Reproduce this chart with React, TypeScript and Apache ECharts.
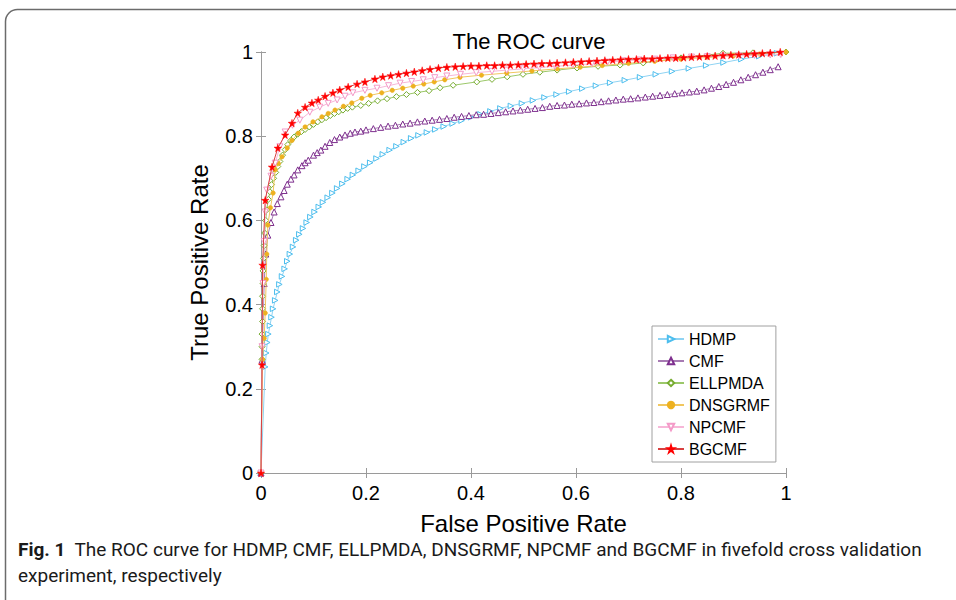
import React, { useEffect, useRef } from "react";
import * as echarts from "echarts";

const TITLE = "The ROC curve";
const X_NAME = "False Positive Rate";
const Y_NAME = "True Positive Rate";
const SERIES_NAMES = ["HDMP", "CMF", "ELLPMDA", "DNSGRMF", "NPCMF", "BGCMF"];
const CAPTION_BOLD = "Fig. 1";
const CAPTION_LINE1 = "  The ROC curve for HDMP, CMF, ELLPMDA, DNSGRMF, NPCMF and BGCMF in fivefold cross validation";
const CAPTION_LINE2 = "experiment, respectively";

const HDMP: [number, number][] = [
  [0, 0], [0.008, 0.252], [0.010, 0.285], [0.012, 0.31], [0.014, 0.33], [0.017, 0.35], [0.020, 0.37],
  [0.023, 0.39], [0.027, 0.41], [0.031, 0.43], [0.035, 0.448], [0.040, 0.467], [0.045, 0.485],
  [0.050, 0.503], [0.055, 0.52], [0.061, 0.537], [0.067, 0.553], [0.073, 0.567], [0.080, 0.581],
  [0.087, 0.595], [0.094, 0.608], [0.102, 0.62], [0.110, 0.632], [0.118, 0.643], [0.127, 0.654],
  [0.136, 0.665], [0.145, 0.676], [0.155, 0.687], [0.165, 0.698], [0.175, 0.708], [0.186, 0.718],
  [0.197, 0.728], [0.208, 0.737], [0.220, 0.747], [0.232, 0.757], [0.245, 0.767], [0.258, 0.776],
  [0.272, 0.786], [0.286, 0.795], [0.300, 0.802], [0.316, 0.809], [0.332, 0.816], [0.348, 0.823],
  [0.365, 0.83], [0.382, 0.837], [0.400, 0.845], [0.418, 0.852], [0.437, 0.859], [0.456, 0.866],
  [0.476, 0.872], [0.497, 0.878], [0.518, 0.885], [0.540, 0.892], [0.563, 0.899], [0.587, 0.906],
  [0.612, 0.913], [0.638, 0.92], [0.665, 0.927], [0.693, 0.933], [0.722, 0.94], [0.752, 0.947],
  [0.783, 0.954], [0.815, 0.961], [0.848, 0.968], [0.881, 0.975], [0.915, 0.983], [0.949, 0.99],
  [0.983, 0.997],
];

const CMF: [number, number][] = [
  [0, 0], [0.002, 0.268], [0.006, 0.45], [0.009, 0.52], [0.013, 0.565], [0.019, 0.595], [0.025, 0.62],
  [0.031, 0.64], [0.038, 0.656], [0.044, 0.671], [0.05, 0.686], [0.057, 0.698], [0.063, 0.708],
  [0.07, 0.72], [0.078, 0.73], [0.084, 0.737], [0.09, 0.743], [0.1, 0.755], [0.107, 0.761],
  [0.114, 0.767], [0.122, 0.776], [0.131, 0.785], [0.14, 0.792], [0.15, 0.798], [0.16, 0.803],
  [0.17, 0.807], [0.179, 0.81], [0.19, 0.812], [0.2, 0.815], [0.214, 0.818], [0.228, 0.821],
  [0.242, 0.824], [0.256, 0.826], [0.27, 0.829], [0.284, 0.831], [0.298, 0.834], [0.312, 0.836],
  [0.326, 0.838], [0.34, 0.84], [0.354, 0.842], [0.368, 0.845], [0.382, 0.847], [0.396, 0.849],
  [0.41, 0.851], [0.424, 0.852], [0.438, 0.854], [0.452, 0.856], [0.466, 0.858], [0.48, 0.86],
  [0.494, 0.862], [0.508, 0.864], [0.522, 0.866], [0.536, 0.868], [0.55, 0.871], [0.564, 0.873],
  [0.578, 0.874], [0.592, 0.876], [0.606, 0.877], [0.62, 0.879], [0.634, 0.88], [0.648, 0.882],
  [0.662, 0.884], [0.676, 0.886], [0.69, 0.888], [0.704, 0.889], [0.718, 0.891], [0.732, 0.893],
  [0.746, 0.895], [0.76, 0.897], [0.774, 0.899], [0.788, 0.901], [0.802, 0.903], [0.816, 0.905],
  [0.83, 0.907], [0.844, 0.91], [0.858, 0.914], [0.872, 0.918], [0.886, 0.923], [0.9, 0.928],
  [0.914, 0.934], [0.928, 0.94], [0.942, 0.946], [0.956, 0.952], [0.97, 0.958], [0.985, 0.965],
];

const ELLPMDA: [number, number][] = [
  [0, 0], [0.002, 0.27], [0.002, 0.3], [0.002, 0.33], [0.003, 0.36], [0.003, 0.39], [0.003, 0.42],
  [0.004, 0.45], [0.004, 0.48], [0.005, 0.51], [0.006, 0.54], [0.007, 0.57], [0.009, 0.6],
  [0.011, 0.625], [0.014, 0.65], [0.017, 0.668], [0.02, 0.685], [0.024, 0.7], [0.028, 0.714],
  [0.032, 0.728], [0.036, 0.74], [0.041, 0.755], [0.046, 0.768], [0.051, 0.78], [0.057, 0.79],
  [0.063, 0.798], [0.07, 0.805], [0.077, 0.811], [0.084, 0.816], [0.092, 0.822], [0.1, 0.828],
  [0.108, 0.834], [0.116, 0.839], [0.124, 0.844], [0.132, 0.849], [0.14, 0.854], [0.148, 0.858],
  [0.156, 0.862], [0.165, 0.866], [0.174, 0.869], [0.19, 0.873], [0.205, 0.878], [0.222, 0.884],
  [0.24, 0.889], [0.258, 0.894], [0.277, 0.899], [0.298, 0.904], [0.32, 0.908], [0.341, 0.915],
  [0.366, 0.921], [0.411, 0.929], [0.44, 0.935], [0.469, 0.941], [0.499, 0.947], [0.531, 0.952],
  [0.564, 0.957], [0.602, 0.962], [0.642, 0.966], [0.684, 0.969], [0.728, 0.974], [0.8, 0.986],
  [0.88, 0.997], [0.937, 0.998], [1.0, 1.0],
];

const DNSGRMF: [number, number][] = [
  [0, 0], [0.003, 0.27], [0.006, 0.32], [0.008, 0.38], [0.01, 0.46], [0.011, 0.52], [0.013, 0.589],
  [0.018, 0.63], [0.023, 0.665], [0.027, 0.72], [0.033, 0.735], [0.04, 0.751], [0.05, 0.772],
  [0.059, 0.79], [0.071, 0.807], [0.084, 0.822], [0.099, 0.834], [0.116, 0.846], [0.128, 0.854],
  [0.141, 0.862], [0.157, 0.871], [0.173, 0.879], [0.192, 0.89], [0.208, 0.897], [0.23, 0.903],
  [0.25, 0.909], [0.27, 0.914], [0.29, 0.919], [0.31, 0.924], [0.33, 0.929], [0.35, 0.934],
  [0.379, 0.94], [0.42, 0.945], [0.468, 0.95], [0.516, 0.955], [0.564, 0.96], [0.608, 0.964],
  [0.65, 0.968], [0.7, 0.973], [0.75, 0.978], [0.8, 0.983], [0.85, 0.987], [0.9, 0.991],
  [0.95, 0.995], [1.0, 1.0],
];

const NPCMF: [number, number][] = [
  [0, 0], [0.002, 0.3], [0.004, 0.45], [0.006, 0.55], [0.008, 0.62], [0.011, 0.672], [0.019, 0.705],
  [0.027, 0.736], [0.036, 0.775], [0.046, 0.81], [0.06, 0.826], [0.074, 0.838], [0.093, 0.857],
  [0.112, 0.869], [0.128, 0.878], [0.145, 0.886], [0.16, 0.895], [0.175, 0.903], [0.198, 0.909],
  [0.221, 0.914], [0.243, 0.92], [0.265, 0.926], [0.287, 0.93], [0.309, 0.934], [0.331, 0.939],
  [0.354, 0.943], [0.38, 0.947], [0.41, 0.951], [0.44, 0.954], [0.468, 0.957], [0.5, 0.96],
  [0.53, 0.963], [0.56, 0.966], [0.594, 0.969], [0.63, 0.972], [0.66, 0.976], [0.69, 0.979],
  [0.72, 0.981], [0.75, 0.983], [0.785, 0.986], [0.82, 0.988], [0.85, 0.989], [0.88, 0.99],
  [0.91, 0.991], [0.94, 0.992], [0.97, 0.993], [0.99, 0.994],
];

const BGCMF: [number, number][] = [
  [0, 0], [0.002, 0.257], [0.003, 0.494], [0.008, 0.648], [0.021, 0.727], [0.032, 0.772],
  [0.046, 0.803], [0.059, 0.831], [0.07, 0.855], [0.084, 0.869], [0.097, 0.879], [0.109, 0.886],
  [0.122, 0.895], [0.137, 0.903], [0.15, 0.91], [0.166, 0.917], [0.183, 0.924], [0.198, 0.929],
  [0.217, 0.936], [0.232, 0.941], [0.247, 0.944], [0.262, 0.947], [0.277, 0.95], [0.292, 0.953],
  [0.307, 0.956], [0.322, 0.959], [0.338, 0.962], [0.354, 0.964], [0.37, 0.965], [0.385, 0.966],
  [0.4, 0.967], [0.415, 0.967], [0.43, 0.968], [0.445, 0.968], [0.46, 0.969], [0.475, 0.969],
  [0.49, 0.97], [0.505, 0.971], [0.52, 0.972], [0.535, 0.973], [0.55, 0.973], [0.564, 0.974],
  [0.58, 0.975], [0.595, 0.976], [0.61, 0.977], [0.625, 0.978], [0.64, 0.979], [0.655, 0.98],
  [0.67, 0.981], [0.685, 0.982], [0.7, 0.983], [0.715, 0.983], [0.73, 0.984], [0.745, 0.984],
  [0.76, 0.985], [0.775, 0.986], [0.79, 0.986], [0.805, 0.987], [0.82, 0.988], [0.835, 0.989],
  [0.85, 0.99], [0.865, 0.991], [0.88, 0.992], [0.895, 0.993], [0.91, 0.994], [0.925, 0.995],
  [0.94, 0.996], [0.955, 0.997], [0.97, 0.998], [0.989, 1.0],
];

const X_TICKS = [0, 0.2, 0.4, 0.6, 0.8, 1];
const Y_TICKS = [0, 0.2, 0.4, 0.6, 0.8, 1];

const STAR = "path://M50,0 L61,35 L98,35 L68,57 L79,91 L50,70 L21,91 L32,57 L2,35 L39,35 Z";

const FONT = "'Liberation Sans', Arial, sans-serif";
const CAPTION_FONT = "Roboto, sans-serif";
const AXIS_GRAY = "#9a9a9a";

export default function App() {
  const ref = useRef<HTMLDivElement>(null);

  useEffect(() => {
    if (!ref.current) return;
    const chart = echarts.init(ref.current, null, { renderer: "svg" });

    const styles = [
      { data: HDMP, color: "#4dbeee", line: "#8fd3f3", symbol: "triangle", rotate: -90, size: 5.5, hollow: true },
      { data: CMF, color: "#7e2f8e", line: "#a77ab3", symbol: "triangle", rotate: 0, size: 6, hollow: true },
      { data: ELLPMDA, color: "#77ac30", line: "#9cc86a", symbol: "diamond", rotate: 0, size: 6, hollow: true },
      { data: DNSGRMF, color: "#edb120", line: "#f1c75f", symbol: "circle", rotate: 0, size: 4.5, hollow: false },
      { data: NPCMF, color: "#f49ac8", line: "#f7b7d8", symbol: "triangle", rotate: 180, size: 6, hollow: true },
      { data: BGCMF, color: "#ff0000", line: "#d84040", symbol: STAR, rotate: 0, size: 7.5, hollow: false },
    ];

    const series = styles.map((s, i) => ({
      name: SERIES_NAMES[i],
      type: "line",
      xAxisIndex: 0,
      yAxisIndex: 0,
      data: s.data,
      symbol: s.symbol,
      symbolRotate: s.rotate,
      symbolSize: s.size,
      showAllSymbol: true,
      lineStyle: { color: s.line, width: 1 },
      itemStyle: s.hollow
        ? { color: "#ffffff", borderColor: s.color, borderWidth: 1 }
        : { color: s.color, borderColor: s.color, borderWidth: 0.5 },
      emphasis: { disabled: true },
      z: 2 + i,
    }));

    const axisCommon = {
      type: "value",
      min: 0,
      max: 1,
      interval: 0.2,
      splitLine: { show: false },
      axisLine: { show: true, lineStyle: { color: AXIS_GRAY, width: 1 } },
      axisTick: { show: true, inside: true, length: 5, lineStyle: { color: AXIS_GRAY } },
    };

    chart.setOption({
      animation: false,
      backgroundColor: "#ffffff",
      title: {
        text: TITLE,
        left: 524,
        top: 25,
        textAlign: "center",
        textStyle: { fontFamily: FONT, fontSize: 22, fontWeight: "normal", color: "#000" },
      },
      legend: {
        data: SERIES_NAMES,
        orient: "vertical",
        left: 652,
        top: 326,
        padding: [5, 6, 5, 5],
        itemWidth: 26,
        itemHeight: 8,
        itemGap: 6,
        backgroundColor: "#ffffff",
        borderColor: "#a0a0a0",
        borderWidth: 1,
        textStyle: { fontFamily: FONT, fontSize: 16, color: "#000" },
      },
      grid: { left: 261, top: 52, width: 525, height: 421, containLabel: false },
      xAxis: [
        {
          ...axisCommon,
          position: "bottom",
          name: X_NAME,
          nameLocation: "middle",
          nameGap: 38,
          nameTextStyle: { fontFamily: FONT, fontSize: 24, color: "#000" },
          axisLabel: {
            fontFamily: FONT,
            fontSize: 20,
            color: "#000",
            margin: 10,
            formatter: (v: number) => String(X_TICKS.find((t) => Math.abs(t - v) < 1e-9) ?? v),
          },
        },
        { ...axisCommon, position: "top", axisLabel: { show: false } },
      ],
      yAxis: [
        {
          ...axisCommon,
          position: "left",
          name: Y_NAME,
          nameLocation: "middle",
          nameGap: 50,
          nameRotate: 90,
          nameTextStyle: { fontFamily: FONT, fontSize: 24, color: "#000" },
          axisLabel: {
            fontFamily: FONT,
            fontSize: 20,
            color: "#000",
            margin: 8,
            formatter: (v: number) => String(Y_TICKS.find((t) => Math.abs(t - v) < 1e-9) ?? v),
          },
        },
        { ...axisCommon, position: "right", axisLabel: { show: false } },
      ],
      graphic: [
        {
          type: "rect",
          shape: { x: 5.5, y: 9.5, width: 1000, height: 700, r: 12 },
          style: { fill: "none", stroke: "#6b6b6b", lineWidth: 1.5 },
          silent: true,
          z: -10,
        },
        {
          type: "text",
          left: 18,
          top: 540,
          style: {
            text: "{b|" + CAPTION_BOLD + "}{n|" + CAPTION_LINE1 + "}",
            rich: {
              b: { fontFamily: CAPTION_FONT, fontSize: 19, fontWeight: "bold", fill: "#1a1a1a" },
              n: { fontFamily: CAPTION_FONT, fontSize: 19, fill: "#1a1a1a" },
            },
          },
        },
        {
          type: "text",
          left: 18,
          top: 566,
          style: {
            text: CAPTION_LINE2,
            fontFamily: CAPTION_FONT,
            fontSize: 19,
            fill: "#1a1a1a",
          },
        },
      ],
      series,
    });

    return () => chart.dispose();
  }, []);

  return (
    <div
      ref={ref}
      style={{ position: "absolute", left: 0, top: 0, width: 956, height: 600, background: "#fff" }}
    />
  );
}
